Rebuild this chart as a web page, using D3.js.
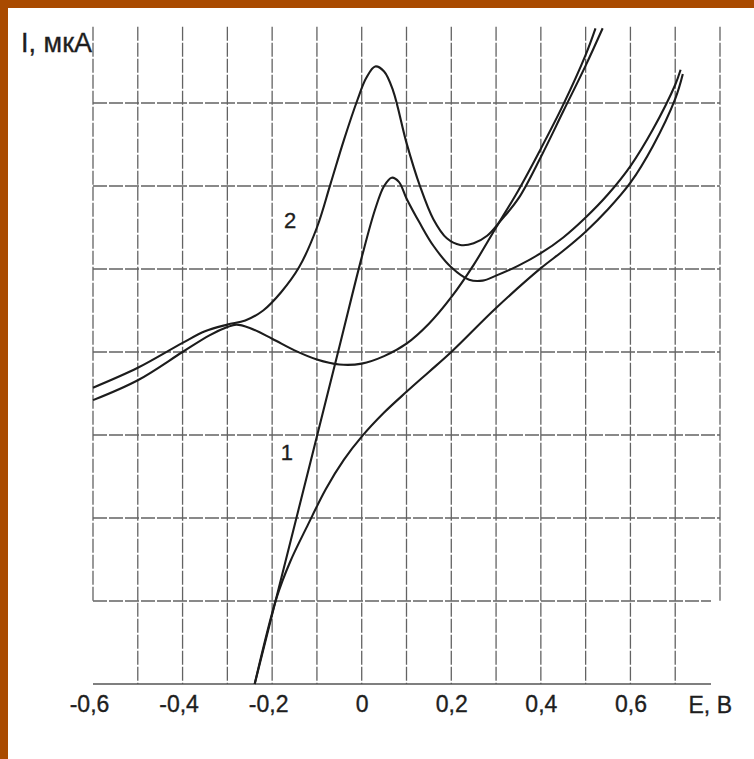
<!DOCTYPE html>
<html>
<head>
<meta charset="utf-8">
<script src="https://cdn.jsdelivr.net/npm/d3@7"></script>
<style>
  body { margin: 0; background: #fff; }
  svg { display: block; }
  .grid line { stroke: #636363; stroke-width: 1.3; stroke-dasharray: 14 2; }
  .curve { fill: none; stroke: #1c1c1c; stroke-width: 2.1; stroke-linejoin: round; }
  text { font-family: "Liberation Sans", Arial, sans-serif; fill: #1e1e1e; stroke: #1e1e1e; stroke-width: 0.35; }
</style>
</head>
<body>
<svg id="chart"></svg>
<script>
"use strict";

// ==========================
// data (E in V, I in grid units)
// ==========================
var eTicks = [-0.6, -0.4, -0.2, 0, 0.2, 0.4, 0.6],
    gridE = [-0.6, -0.5, -0.4, -0.3, -0.2, -0.1, 0, 0.1, 0.2, 0.3, 0.4, 0.5, 0.6, 0.7, 0.8],
    gridI = [1, 2, 3, 4, 5, 6, 7];

// curve 2, trace with the big peak
var curve2a = [[-0.60, 3.57], [-0.50, 3.81], [-0.40, 4.11], [-0.35, 4.25], [-0.30, 4.33],
  [-0.26, 4.38], [-0.22, 4.50], [-0.18, 4.72], [-0.14, 5.02], [-0.10, 5.50], [-0.07, 6.02],
  [-0.04, 6.55], [-0.01, 7.03], [0.01, 7.30], [0.03, 7.44], [0.05, 7.38], [0.07, 7.15],
  [0.10, 6.52], [0.13, 6.00], [0.16, 5.60], [0.19, 5.37], [0.22, 5.29], [0.25, 5.31],
  [0.28, 5.40], [0.31, 5.58], [0.35, 5.85], [0.40, 6.35], [0.45, 6.90], [0.50, 7.45], [0.538, 7.90]];

// curve 2, trace with the dip near 0
var curve2b = [[-0.60, 3.42], [-0.50, 3.66], [-0.40, 4.00], [-0.34, 4.20], [-0.30, 4.30],
  [-0.28, 4.33], [-0.25, 4.29], [-0.20, 4.16], [-0.15, 4.02], [-0.10, 3.91], [-0.05, 3.85],
  [0.00, 3.86], [0.05, 3.95], [0.10, 4.10], [0.15, 4.34], [0.20, 4.66], [0.25, 5.05],
  [0.30, 5.50], [0.35, 5.95], [0.40, 6.45], [0.45, 6.98], [0.50, 7.58], [0.522, 7.90]];

// curve 1, steep branch with peak
var curve1a = [[-0.239, 0], [-0.15, 1.91], [-0.05, 4.06], [0.00, 5.14], [0.03, 5.72],
  [0.05, 6.00], [0.067, 6.10], [0.083, 6.05], [0.10, 5.85], [0.13, 5.55], [0.16, 5.28],
  [0.20, 5.02], [0.24, 4.87], [0.27, 4.86], [0.30, 4.92], [0.35, 5.04], [0.40, 5.19],
  [0.45, 5.38], [0.50, 5.62], [0.55, 5.90], [0.60, 6.24], [0.65, 6.68], [0.70, 7.22], [0.712, 7.40]];

// curve 1, smooth branch
var curve1b = [[-0.239, 0], [-0.19, 1.04], [-0.16, 1.47], [-0.12, 1.92], [-0.08, 2.35],
  [-0.04, 2.70], [0.00, 2.98], [0.05, 3.27], [0.10, 3.52], [0.15, 3.76], [0.20, 4.00],
  [0.30, 4.53], [0.40, 5.01], [0.45, 5.22], [0.50, 5.45], [0.55, 5.72], [0.60, 6.04],
  [0.65, 6.48], [0.70, 7.05], [0.717, 7.35]];

var curveLabels = [{ text: "2", e: -0.16, i: 5.5 }, { text: "1", e: -0.167, i: 2.7 }];

// ==========================
// chart
// ==========================
var width = 754,
    height = 759;

var svg = d3.select("#chart").attr("width", width).attr("height", height);

svg.append("rect").attr("width", width).attr("height", height).attr("fill", "#fff");
svg.append("rect").attr("width", width).attr("height", 8).attr("fill", "#a94a00");
svg.append("rect").attr("width", 8).attr("height", height).attr("fill", "#a94a00");

var x = d3.scaleLinear().domain([-0.6, 0.8]).range([93, 720]),
    y = d3.scaleLinear().domain([0, 7]).range([684, 103]);

var iTop = 7.92;

var grid = svg.append("g").attr("class", "grid");

grid.selectAll(".v").data(gridE).enter().append("line")
  .attr("class", "v")
  .attr("x1", function (d) { return x(d); })
  .attr("x2", function (d) { return x(d); })
  .attr("y1", y(iTop))
  .attr("y2", function (d) { return (d < -0.55 || d > 0.75) ? y(1) : y(0); });

grid.selectAll(".h").data(gridI).enter().append("line")
  .attr("class", "h")
  .attr("x1", x(-0.6))
  .attr("x2", function (d) { return d == 1 ? x(0.78) : x(0.8); })
  .attr("y1", function (d) { return y(d); })
  .attr("y2", function (d) { return y(d); });

// x axis
svg.append("line")
  .attr("x1", x(-0.6)).attr("x2", x(0.78))
  .attr("y1", y(0)).attr("y2", y(0))
  .attr("stroke", "#555").attr("stroke-width", 1.6);

var locale = d3.formatLocale({ decimal: ",", thousands: " ", grouping: [3], currency: ["", ""], minus: "-" });
var fmt = locale.format(".1f");

var axis = svg.append("g")
  .attr("transform", "translate(0," + y(0) + ")")
  .call(d3.axisBottom(x).tickValues(eTicks).tickSize(0).tickPadding(12)
    .tickFormat(function (d) { return d === 0 ? "0" : fmt(d); }));

axis.select(".domain").remove();
axis.selectAll("text")
  .style("font-size", "23px")
  .attr("fill", "#1e1e1e")
  .attr("dx", function (d) { return d < 0 ? -4 : 0; });

svg.append("text")
  .attr("x", x(0.8) + 12)
  .attr("y", y(0) + 29)
  .attr("text-anchor", "end")
  .style("font-size", "23px")
  .text("E, B");

svg.append("text")
  .attr("x", x(-0.6) - 1)
  .attr("y", 52)
  .attr("text-anchor", "end")
  .style("font-size", "27px")
  .text("I, мкА");

// curves
var line = d3.line()
  .x(function (d) { return x(d[0]); })
  .y(function (d) { return y(d[1]); })
  .curve(d3.curveCatmullRom.alpha(0.5));

svg.selectAll(".curve").data([curve2a, curve2b, curve1a, curve1b]).enter().append("path")
  .attr("class", "curve")
  .attr("d", line);

svg.selectAll(".lbl").data(curveLabels).enter().append("text")
  .attr("class", "lbl")
  .attr("x", function (d) { return x(d.e); })
  .attr("y", function (d) { return y(d.i); })
  .attr("text-anchor", "middle")
  .style("font-size", "22px")
  .text(function (d) { return d.text; });
</script>
</body>
</html>
